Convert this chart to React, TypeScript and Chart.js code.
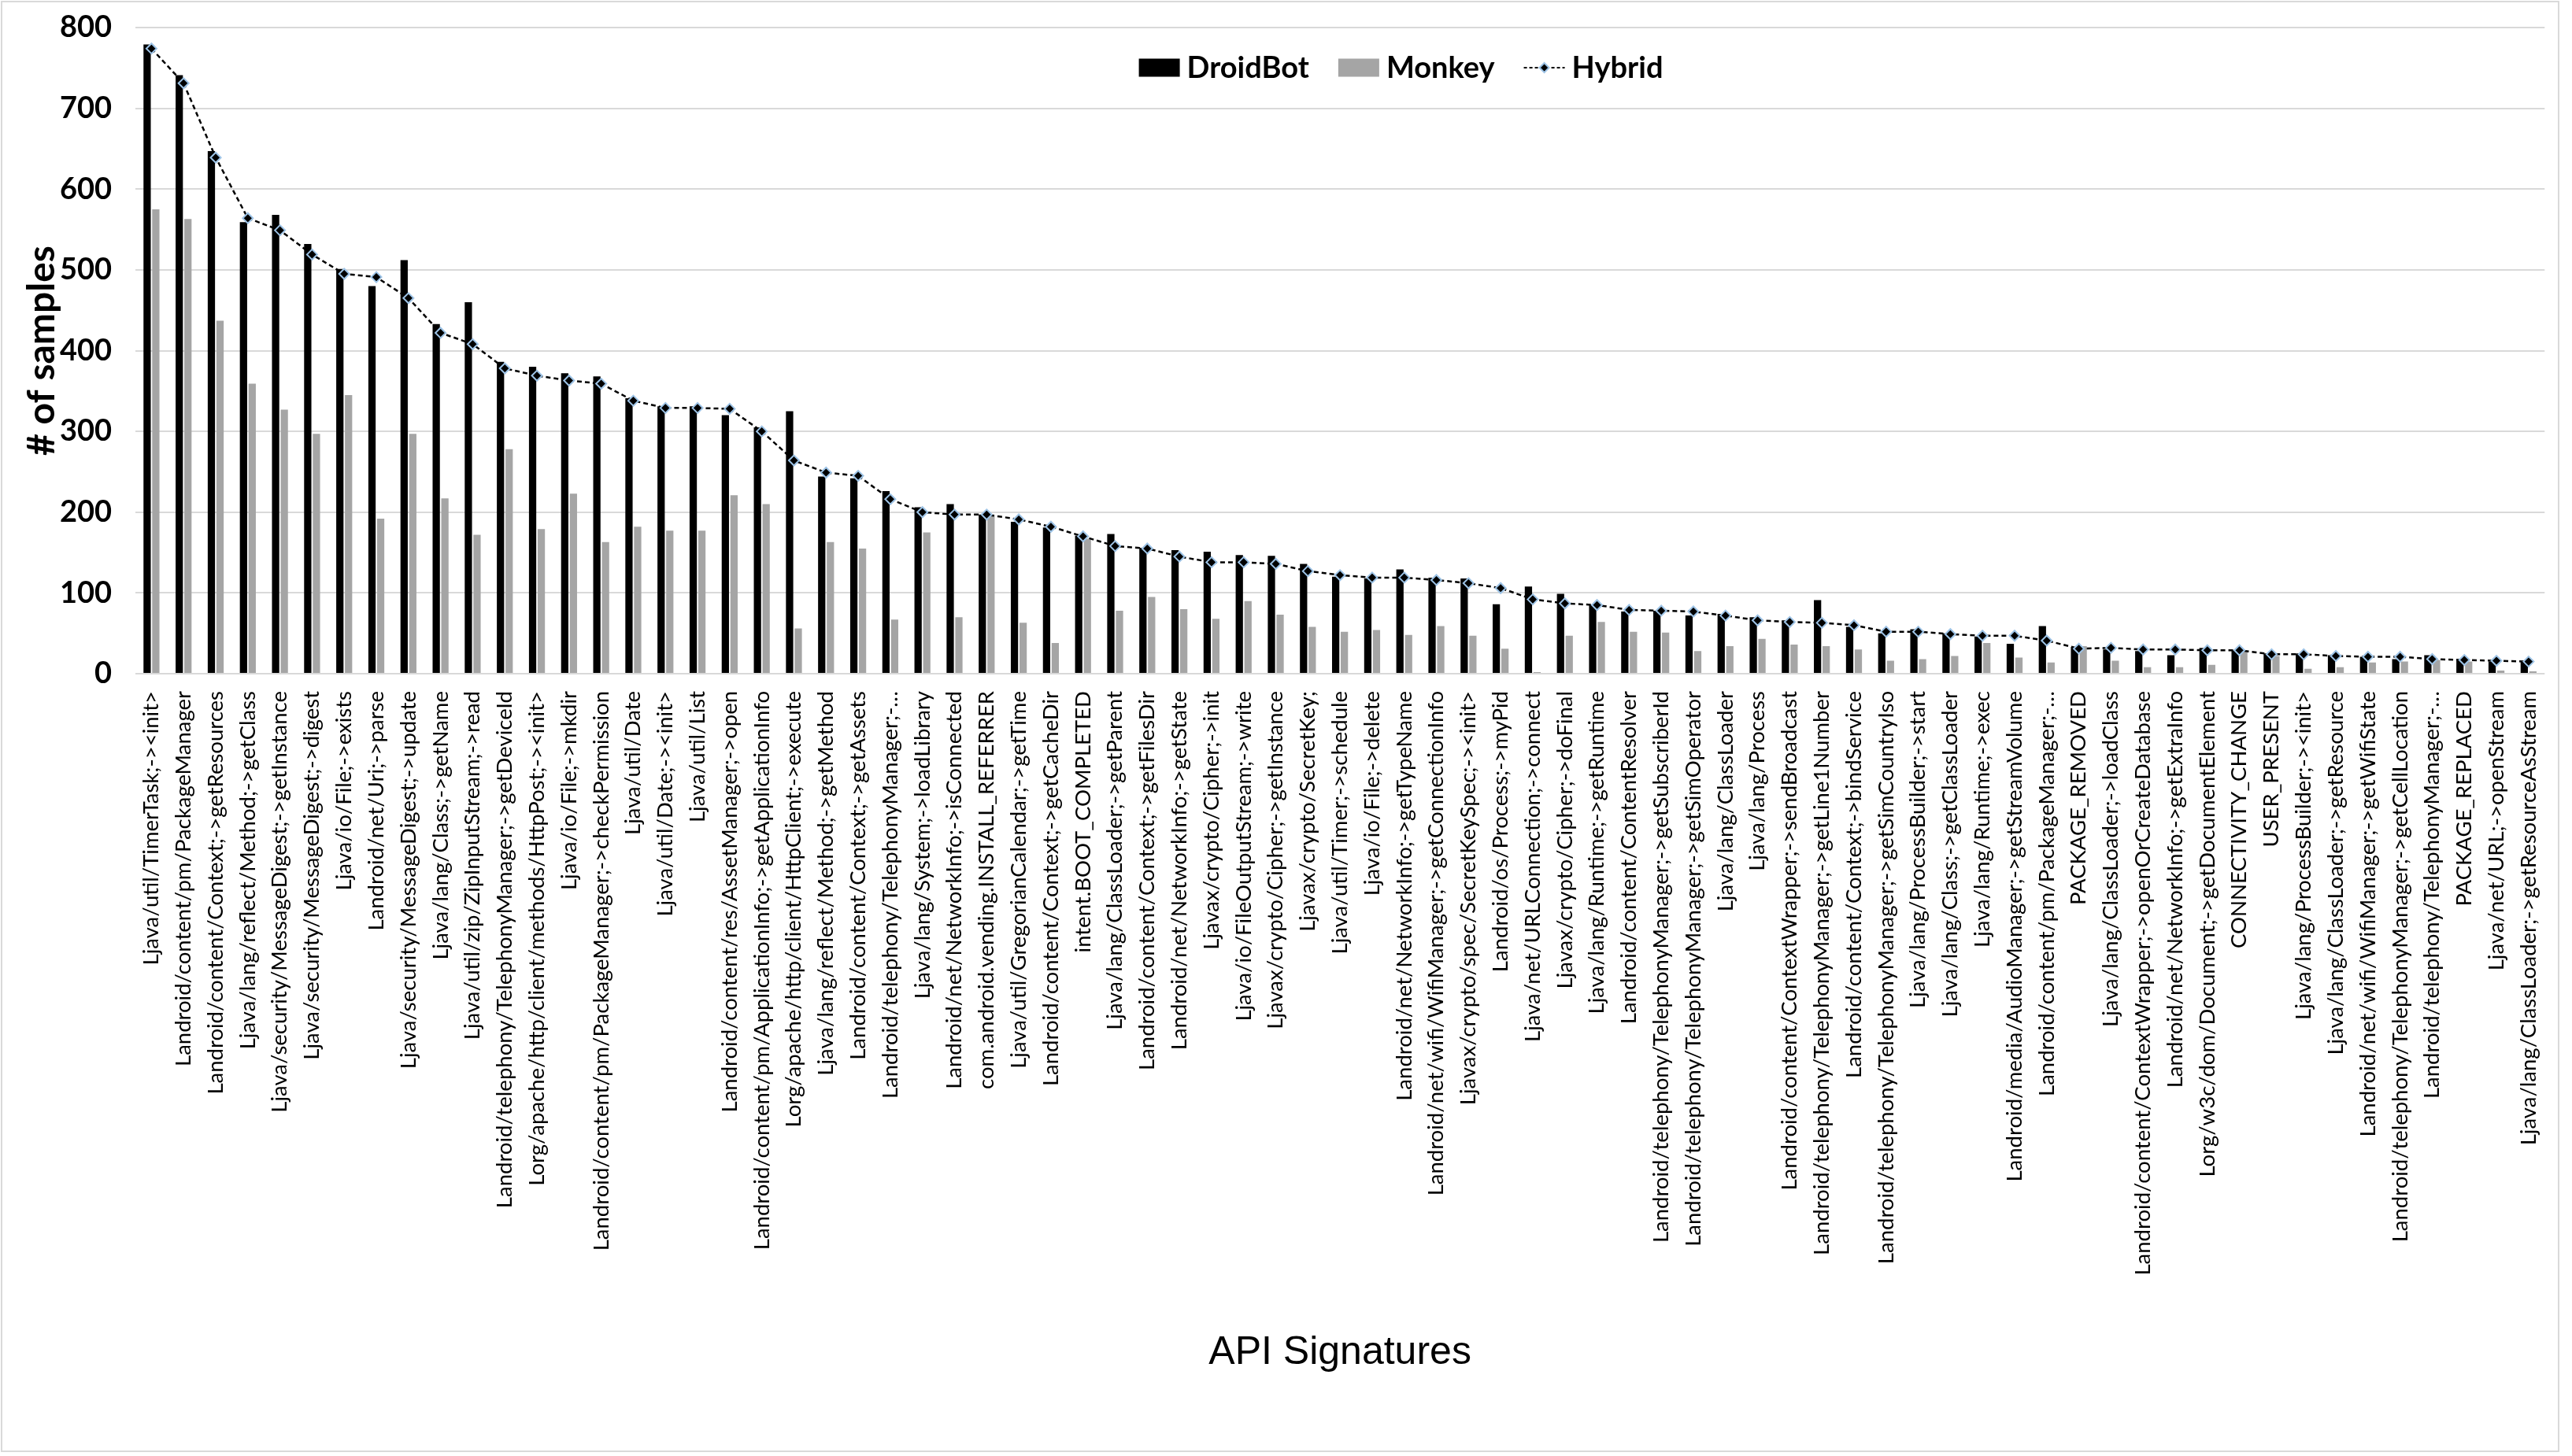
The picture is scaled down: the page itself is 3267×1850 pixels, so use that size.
import React, { useEffect, useRef } from 'react';
import { Chart, registerables } from 'chart.js';

Chart.register(...registerables);

const categories: string[] = [
  'Ljava/util/TimerTask;-><init>',
  'Landroid/content/pm/PackageManager',
  'Landroid/content/Context;->getResources',
  'Ljava/lang/reflect/Method;->getClass',
  'Ljava/security/MessageDigest;->getInstance',
  'Ljava/security/MessageDigest;->digest',
  'Ljava/io/File;->exists',
  'Landroid/net/Uri;->parse',
  'Ljava/security/MessageDigest;->update',
  'Ljava/lang/Class;->getName',
  'Ljava/util/zip/ZipInputStream;->read',
  'Landroid/telephony/TelephonyManager;->getDeviceId',
  'Lorg/apache/http/client/methods/HttpPost;-><init>',
  'Ljava/io/File;->mkdir',
  'Landroid/content/pm/PackageManager;->checkPermission',
  'Ljava/util/Date',
  'Ljava/util/Date;-><init>',
  'Ljava/util/List',
  'Landroid/content/res/AssetManager;->open',
  'Landroid/content/pm/ApplicationInfo;->getApplicationInfo',
  'Lorg/apache/http/client/HttpClient;->execute',
  'Ljava/lang/reflect/Method;->getMethod',
  'Landroid/content/Context;->getAssets',
  'Landroid/telephony/TelephonyManager;-…',
  'Ljava/lang/System;->loadLibrary',
  'Landroid/net/NetworkInfo;->isConnected',
  'com.android.vending.INSTALL_REFERRER',
  'Ljava/util/GregorianCalendar;->getTime',
  'Landroid/content/Context;->getCacheDir',
  'intent.BOOT_COMPLETED',
  'Ljava/lang/ClassLoader;->getParent',
  'Landroid/content/Context;->getFilesDir',
  'Landroid/net/NetworkInfo;->getState',
  'Ljavax/crypto/Cipher;->init',
  'Ljava/io/FileOutputStream;->write',
  'Ljavax/crypto/Cipher;->getInstance',
  'Ljavax/crypto/SecretKey;',
  'Ljava/util/Timer;->schedule',
  'Ljava/io/File;->delete',
  'Landroid/net/NetworkInfo;->getTypeName',
  'Landroid/net/wifi/WifiManager;->getConnectionInfo',
  'Ljavax/crypto/spec/SecretKeySpec;-><init>',
  'Landroid/os/Process;->myPid',
  'Ljava/net/URLConnection;->connect',
  'Ljavax/crypto/Cipher;->doFinal',
  'Ljava/lang/Runtime;->getRuntime',
  'Landroid/content/ContentResolver',
  'Landroid/telephony/TelephonyManager;->getSubscriberId',
  'Landroid/telephony/TelephonyManager;->getSimOperator',
  'Ljava/lang/ClassLoader',
  'Ljava/lang/Process',
  'Landroid/content/ContextWrapper;->sendBroadcast',
  'Landroid/telephony/TelephonyManager;->getLine1Number',
  'Landroid/content/Context;->bindService',
  'Landroid/telephony/TelephonyManager;->getSimCountryIso',
  'Ljava/lang/ProcessBuilder;->start',
  'Ljava/lang/Class;->getClassLoader',
  'Ljava/lang/Runtime;->exec',
  'Landroid/media/AudioManager;->getStreamVolume',
  'Landroid/content/pm/PackageManager;-…',
  'PACKAGE_REMOVED',
  'Ljava/lang/ClassLoader;->loadClass',
  'Landroid/content/ContextWrapper;->openOrCreateDatabase',
  'Landroid/net/NetworkInfo;->getExtraInfo',
  'Lorg/w3c/dom/Document;->getDocumentElement',
  'CONNECTIVITY_CHANGE',
  'USER_PRESENT',
  'Ljava/lang/ProcessBuilder;-><init>',
  'Ljava/lang/ClassLoader;->getResource',
  'Landroid/net/wifi/WifiManager;->getWifiState',
  'Landroid/telephony/TelephonyManager;->getCellLocation',
  'Landroid/telephony/TelephonyManager;-…',
  'PACKAGE_REPLACED',
  'Ljava/net/URL;->openStream',
  'Ljava/lang/ClassLoader;->getResourceAsStream',
];

const droidBot: number[] = [
  779, 741, 647, 559, 568, 532, 501, 480, 512, 433,
  460, 386, 380, 372, 368, 341, 331, 331, 320, 305,
  325, 244, 242, 226, 206, 210, 197, 188, 181, 171,
  173, 156, 153, 151, 147, 146, 136, 120, 118, 129,
  119, 118, 86, 108, 99, 85, 77, 78, 72, 74,
  70, 66, 91, 58, 50, 55, 50, 46, 37, 59,
  33, 30, 28, 23, 32, 29, 25, 25, 23, 21,
  18, 23, 17, 15, 15,
];

const monkey: number[] = [
  575, 563, 437, 359, 327, 297, 345, 192, 297, 217,
  172, 278, 179, 223, 163, 182, 177, 177, 221, 210,
  56, 163, 155, 67, 175, 70, 195, 63, 38, 167,
  78, 95, 80, 68, 90, 73, 58, 52, 54, 48,
  59, 47, 31, 2, 47, 64, 52, 51, 28, 34,
  43, 36, 34, 30, 16, 18, 22, 38, 20, 14,
  34, 16, 8, 8, 11, 27, 22, 6, 8, 14,
  15, 17, 15, 4, 3,
];

const hybrid: number[] = [
  774, 731, 639, 564, 549, 519, 495, 491, 465, 422,
  408, 378, 369, 363, 359, 338, 329, 329, 328, 300,
  264, 249, 245, 216, 200, 197, 197, 191, 182, 170,
  158, 155, 145, 138, 138, 136, 127, 122, 119, 119,
  116, 112, 106, 92, 87, 85, 79, 78, 77, 72,
  66, 64, 63, 60, 52, 52, 49, 47, 47, 41,
  31, 32, 30, 30, 29, 29, 24, 24, 22, 21,
  21, 18, 17, 16, 15,
];

const seriesNames = ['DroidBot', 'Monkey', 'Hybrid'];
const yMin = 0;
const yMax = 800;
const yStep = 100;

const DROID_COLOR = '#000000';
const MONKEY_COLOR = '#a5a5a5';
const HYBRID_LINE = '#000000';
const HYBRID_MARKER_BORDER = '#9dc3e6';

const W = 3267;
const H = 1850;

const framePlugin = {
  id: 'frame',
  beforeDraw(chart: any) {
    const { ctx } = chart;
    ctx.save();
    ctx.fillStyle = '#ffffff';
    ctx.fillRect(0, 0, chart.width, chart.height);
    ctx.strokeStyle = '#d9d9d9';
    ctx.lineWidth = 2;
    ctx.strokeRect(2, 2, 3248, 1842);
    ctx.restore();
  },
};

const legendPlugin = {
  id: 'customLegend',
  afterDraw(chart: any) {
    const { ctx, chartArea } = chart;
    ctx.save();
    ctx.font = 'bold 38px Lato';
    ctx.textBaseline = 'middle';
    ctx.textAlign = 'left';
    ctx.fillStyle = '#000';
    const y = chartArea.top + 51;
    let x = chartArea.left + chartArea.width * 0.4165;
    const boxW = 52;
    const boxH = 23;
    const gapText = 9;
    const gapItem = 37;
    // DroidBot
    ctx.fillStyle = DROID_COLOR;
    ctx.fillRect(x, y - boxH / 2, boxW, boxH);
    x += boxW + gapText;
    ctx.fillStyle = '#000';
    ctx.fillText(seriesNames[0], x, y + 1);
    x += ctx.measureText(seriesNames[0]).width + gapItem;
    // Monkey
    ctx.fillStyle = MONKEY_COLOR;
    ctx.fillRect(x, y - boxH / 2, boxW, boxH);
    x += boxW + gapText;
    ctx.fillStyle = '#000';
    ctx.fillText(seriesNames[1], x, y + 1);
    x += ctx.measureText(seriesNames[1]).width + gapItem;
    // Hybrid
    ctx.strokeStyle = HYBRID_LINE;
    ctx.lineWidth = 2;
    ctx.setLineDash([4, 3]);
    ctx.beginPath();
    ctx.moveTo(x, y);
    ctx.lineTo(x + boxW, y);
    ctx.stroke();
    ctx.setLineDash([]);
    const cx = x + boxW / 2;
    const r = 6;
    ctx.beginPath();
    ctx.moveTo(cx, y - r);
    ctx.lineTo(cx + r, y);
    ctx.lineTo(cx, y + r);
    ctx.lineTo(cx - r, y);
    ctx.closePath();
    ctx.fillStyle = '#000';
    ctx.fill();
    ctx.strokeStyle = HYBRID_MARKER_BORDER;
    ctx.lineWidth = 2;
    ctx.stroke();
    x += boxW + gapText;
    ctx.fillStyle = '#000';
    ctx.fillText(seriesNames[2], x, y + 1);
    ctx.restore();
  },
};

export default function App() {
  const canvasRef = useRef<HTMLCanvasElement | null>(null);

  useEffect(() => {
    const canvas = canvasRef.current;
    if (!canvas) return;
    const chart = new Chart(canvas, {
      type: 'bar',
      data: {
        labels: categories,
        datasets: [
          {
            type: 'bar',
            label: seriesNames[0],
            data: droidBot,
            backgroundColor: DROID_COLOR,
            borderWidth: 0,
            categoryPercentage: 0.54,
            barPercentage: 0.84,
            order: 2,
          },
          {
            type: 'bar',
            label: seriesNames[1],
            data: monkey,
            backgroundColor: MONKEY_COLOR,
            borderWidth: 0,
            categoryPercentage: 0.54,
            barPercentage: 0.84,
            order: 3,
          },
          {
            type: 'line',
            label: seriesNames[2],
            data: hybrid,
            borderColor: HYBRID_LINE,
            borderWidth: 2.5,
            borderDash: [6, 4],
            tension: 0,
            fill: false,
            pointStyle: 'rectRot',
            pointRadius: 6.5,
            pointBackgroundColor: '#000000',
            pointBorderColor: HYBRID_MARKER_BORDER,
            pointBorderWidth: 2,
            order: 0,
          } as any,
        ],
      },
      options: {
        responsive: false,
        devicePixelRatio: 1,
        animation: false,
        layout: { padding: { left: 0, right: 22, top: 35, bottom: 0 } },
        plugins: {
          legend: { display: false },
          tooltip: { enabled: false },
        },
        scales: {
          x: {
            grid: { display: false, drawTicks: false },
            border: { display: false },
            ticks: {
              autoSkip: false,
              maxRotation: 90,
              minRotation: 90,
              padding: 22,
              color: '#000000',
              font: { family: 'Lato', size: 27.5 },
            },
            title: {
              display: true,
              text: 'API Signatures',
              color: '#000000',
              font: { family: 'Liberation Sans', size: 50 },
              padding: { top: 0, bottom: 101 },
            },
            afterFit: (s: any) => {
              s.height = 994;
            },
          },
          y: {
            min: yMin,
            max: yMax,
            ticks: {
              stepSize: yStep,
              padding: 30,
              color: '#000000',
              font: { family: 'Lato', size: 38, weight: 'bold' },
            },
            grid: { color: '#d9d9d9', lineWidth: 2, drawTicks: false },
            border: { display: false },
            title: {
              display: true,
              text: '# of samples',
              color: '#000000',
              font: { family: 'Lato', size: 48, weight: 'bold' },
              padding: { top: 25, bottom: 0 },
            },
            afterFit: (s: any) => {
              s.width = 172;
              s.paddingTop = 0;
              s.paddingBottom = 0;
            },
          },
        },
      },
      plugins: [framePlugin, legendPlugin],
    });
    return () => chart.destroy();
  }, []);

  return (
    <div style={{ position: 'absolute', left: 0, top: 0, width: W, height: H, background: '#ffffff' }}>
      <canvas ref={canvasRef} width={W} height={H} style={{ display: 'block', width: W, height: H }} />
    </div>
  );
}
